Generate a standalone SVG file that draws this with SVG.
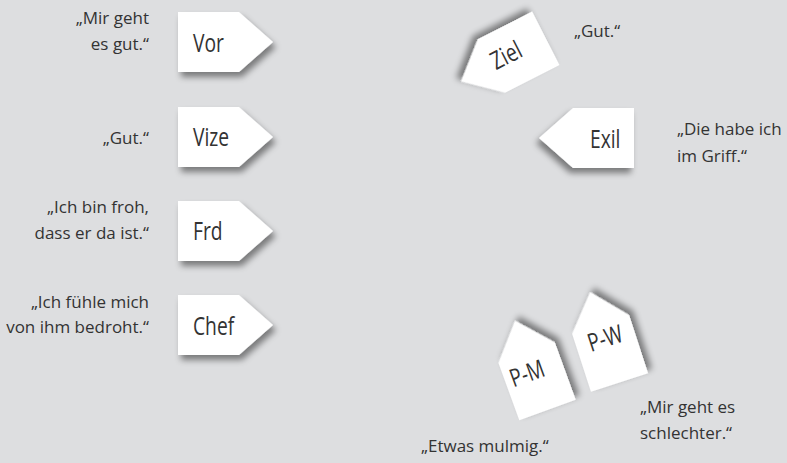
<svg xmlns="http://www.w3.org/2000/svg" width="787" height="463" viewBox="0 0 787 463">
  <style>
    .tag { fill: #ffffff; filter: url(#sh); }
    .lbl { font-family: "Open Sans", "Noto Sans", "Liberation Sans", sans-serif; font-size: 25px; fill: #333333; }
    .q { font-family: "Open Sans", "Noto Sans", "Liberation Sans", sans-serif; font-size: 17px; fill: #333333; }
    .r { text-anchor: end; }
    .m { text-anchor: middle; }
  </style>
  <defs>
    <path id="pent" d="M0,-30H61L95,0L61,30H0Z"/>
    <filter id="sh" x="-30%" y="-30%" width="170%" height="170%">
      <feDropShadow dx="3" dy="5" stdDeviation="3" flood-color="#000000" flood-opacity="0.45"/>
    </filter>
  </defs>
  <rect x="0" y="0" width="787" height="463" fill="#dddee0"/>

  <g id="connectors"></g>

  <g id="node-vor">
    <use href="#pent" class="tag" transform="translate(178,42)"/>
    <text class="lbl" transform="translate(193,51.5) scale(0.77,1)">Vor</text>
    <text class="q r" x="149" y="24">„Mir geht</text>
    <text class="q r" x="149" y="49.5">es gut.“</text>
  </g>

  <g id="node-vize">
    <use href="#pent" class="tag" transform="translate(178,137)"/>
    <text class="lbl" transform="translate(193,146) scale(0.77,1)">Vize</text>
    <text class="q r" x="149" y="144">„Gut.“</text>
  </g>

  <g id="node-frd">
    <use href="#pent" class="tag" transform="translate(178,231)"/>
    <text class="lbl" transform="translate(193,240) scale(0.77,1)">Frd</text>
    <text class="q r" x="149" y="213">„Ich bin froh,</text>
    <text class="q r" x="149" y="239">dass er da ist.“</text>
  </g>

  <g id="node-chef">
    <use href="#pent" class="tag" transform="translate(178,325)"/>
    <text class="lbl" transform="translate(193,335) scale(0.77,1)">Chef</text>
    <text class="q r" x="149" y="307.5">„Ich fühle mich</text>
    <text class="q r" x="149" y="332.5">von ihm bedroht.“</text>
  </g>

  <g id="node-ziel">
    <use href="#pent" class="tag" transform="translate(545.8,38.3) rotate(153)"/>
    <text class="lbl m" transform="translate(506,55) rotate(-27) scale(0.77,1)" y="9">Ziel</text>
    <text class="q" x="574" y="37">„Gut.“</text>
  </g>

  <g id="node-exil">
    <use href="#pent" class="tag" transform="translate(634,138) scale(-1,1)"/>
    <text class="lbl" transform="translate(590,148) scale(0.77,1)">Exil</text>
    <text class="q" x="677" y="135">„Die habe ich</text>
    <text class="q" x="677" y="161.5">im Griff.“</text>
  </g>

  <g id="node-pm">
    <use href="#pent" class="tag" transform="translate(547.5,410) rotate(-110)"/>
    <text class="lbl m" transform="translate(527,373) rotate(-20) scale(0.77,1)" y="9">P-M</text>
    <text class="q" x="421" y="452">„Etwas mulmig.“</text>
  </g>

  <g id="node-pw">
    <use href="#pent" class="tag" transform="translate(619.5,382.5) rotate(-108)"/>
    <text class="lbl m" transform="translate(605,338) rotate(-18) scale(0.77,1)" y="9">P-W</text>
    <text class="q" x="640" y="413">„Mir geht es</text>
    <text class="q" x="640" y="439">schlechter.“</text>
  </g>
</svg>
